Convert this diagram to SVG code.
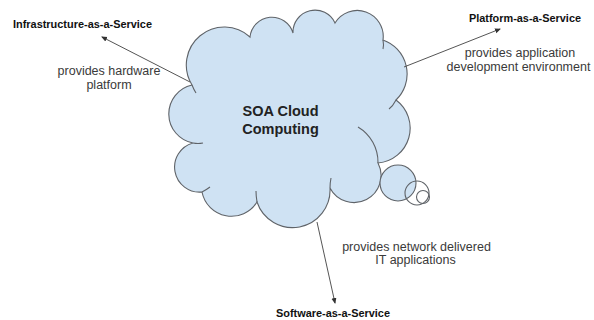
<svg xmlns="http://www.w3.org/2000/svg" width="594" height="320" viewBox="0 0 594 320">
<defs>
<style>
.cloud{fill:#cfe2f3;stroke:#5f6368;stroke-width:1.1}
.hook{fill:none;stroke:#5f6368;stroke-width:1.1}
.bub{stroke:#5f6368;stroke-width:1.1}
.conn{stroke:#555;stroke-width:1;fill:none}
.title{font-family:"Liberation Sans",Arial,sans-serif;font-weight:bold;font-size:11px;fill:#111}
.lbl{font-family:"Liberation Sans",Arial,sans-serif;font-size:12.5px;fill:#3a3a3a;text-anchor:middle}
.main{font-family:"Liberation Sans",Arial,sans-serif;font-weight:bold;font-size:14.5px;fill:#222;text-anchor:middle}
</style>
<marker id="ah" viewBox="0 0 6 6" refX="5" refY="3" markerWidth="6" markerHeight="6" markerUnits="userSpaceOnUse" orient="auto">
<path d="M0,0.5 L6,3 L0,5.5 Z" fill="#333"/>
</marker>
</defs>
<rect width="594" height="320" fill="#fff"/>
<g id="cloud">
<path class="cloud" d="M192,85 A38,38 0 0 1 250,37 A22,22 0 0 1 293,33 A22,22 0 0 1 335,23 A26,26 0 0 1 383,40 A36,36 0 0 1 396,100 A35,35 0 0 1 378,163 A27,27 0 0 1 330,188 A37.5,37.5 0 0 1 257,202 A30,30 0 0 1 202,192 A25,25 0 0 1 193,143 A29.6,29.6 0 0 1 192,85 Z"/>
<path class="hook" d="M358,127 A41,41 0 0 1 378,163"/>
<path class="hook" d="M192,85 Q194,90 196,93"/>
<path class="hook" d="M383,40 Q384,45 383,49"/>
<path class="hook" d="M396,100 Q393,106 389,109"/>
<path class="hook" d="M330,188 Q330,183 331,178"/>
<path class="hook" d="M257,202 Q256,196 256,191"/>
<path class="hook" d="M193,143 Q198,144 203,143"/>
<path class="hook" d="M202,192 Q206,190 210,187"/>
<text class="main" x="280.5" y="116">SOA Cloud</text>
<text class="main" x="280.5" y="133.5">Computing</text>
</g>
<g id="bubbles">
<circle class="bub" cx="398" cy="183" r="18" fill="#cfe2f3"/>
<circle class="bub" cx="417" cy="193" r="12" fill="none"/>
<circle class="bub" cx="423" cy="197" r="6.5" fill="none"/>
</g>
<g id="connectors">
<line class="conn" x1="190" y1="82" x2="102" y2="37" marker-end="url(#ah)"/>
<line class="conn" x1="404" y1="67" x2="500" y2="29" marker-end="url(#ah)"/>
<line class="conn" x1="317" y1="222" x2="335" y2="303" marker-end="url(#ah)"/>
</g>
<g id="iaas">
<text class="title" x="13" y="28" textLength="139" lengthAdjust="spacingAndGlyphs">Infrastructure-as-a-Service</text>
<text class="lbl" x="109" y="75">provides hardware</text>
<text class="lbl" x="109" y="89">platform</text>
</g>
<g id="paas">
<text class="title" x="469" y="22" textLength="112" lengthAdjust="spacingAndGlyphs">Platform-as-a-Service</text>
<text class="lbl" x="520" y="57">provides application</text>
<text class="lbl" x="518.5" y="71">development environment</text>
</g>
<g id="saas">
<text class="title" x="276" y="317" textLength="114" lengthAdjust="spacingAndGlyphs">Software-as-a-Service</text>
<text class="lbl" x="416.5" y="251">provides network delivered</text>
<text class="lbl" x="415.5" y="264">IT applications</text>
</g>
</svg>
